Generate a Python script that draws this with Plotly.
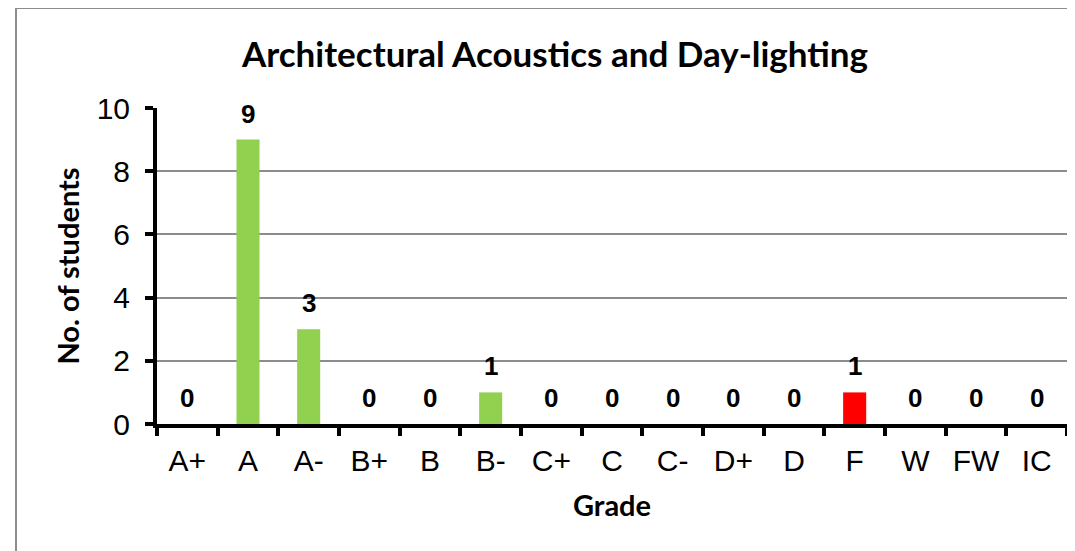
import plotly.graph_objects as go

grades = ["A+", "A", "A-", "B+", "B", "B-", "C+", "C", "C-", "D+", "D", "F", "W", "FW", "IC"]
students = [0, 9, 3, 0, 0, 1, 0, 0, 0, 0, 0, 1, 0, 0, 0]
bar_colors = ["#FF0000" if g == "F" else "#92D050" for g in grades]
y_ticks = [0, 2, 4, 6, 8, 10]

fig = go.Figure(go.Bar(
    x=grades,
    y=students,
    marker=dict(color=bar_colors, line=dict(width=0)),
    hoverinfo="x+y",
))

# data labels sit well above the bar tops, like Excel does
for g, v in zip(grades, students):
    fig.add_annotation(
        x=g, y=v, text=f"<b>{v}</b>", showarrow=False,
        yanchor="middle", yshift=26,
        font=dict(family="Liberation Sans, Arial", size=26, color="black"),
    )

# outer chart border (page body has an 8px margin, so plot area is 149..1059 x 100..416 in figure px)
fig.add_shape(
    type="rect", xref="paper", yref="paper",
    x0=(8 - 149) / 910, x1=(1090 - 149) / 910,
    y0=(416 - 580) / 316, y1=(416 - 0) / 316,
    line=dict(color="#8c8c8c", width=2), layer="below",
)

fig.update_layout(
    width=1075, height=551,
    paper_bgcolor="white", plot_bgcolor="white",
    showlegend=False,
    bargap=0.62,
    margin=dict(l=149, r=16, t=100, b=135),
    font=dict(family="Liberation Sans, Arial", color="black"),
    title=dict(
        text="<b>Architectural Acoustics and Day-lighting</b>",
        x=547 / 1075, xanchor="center", xref="container",
        y=1 - 47 / 551, yanchor="middle",
        font=dict(family="Lato, Open Sans", size=35, color="black"),
    ),
    xaxis=dict(
        title=dict(text="<b>Grade</b>", font=dict(family="Lato, Open Sans", size=29), standoff=21),
        tickfont=dict(size=30),
        showline=True, linecolor="black", linewidth=4,
        ticks="outside", tickson="boundaries", ticklen=8, tickwidth=4, tickcolor="black",
        ticklabelstandoff=7,
        showgrid=False,
    ),
    yaxis=dict(
        title=dict(text="<b>No. of students</b>", font=dict(family="Lato, Open Sans", size=29), standoff=9),
        range=[0, 10], tickvals=y_ticks,
        tickfont=dict(size=30),
        showline=True, linecolor="black", linewidth=4,
        ticks="outside", ticklen=8, tickwidth=4, tickcolor="black",
        ticklabelstandoff=9,
        showgrid=True, gridcolor="#8c8c8c", gridwidth=1.5,
        zeroline=False,
    ),
)

fig.write_html("out.html")
